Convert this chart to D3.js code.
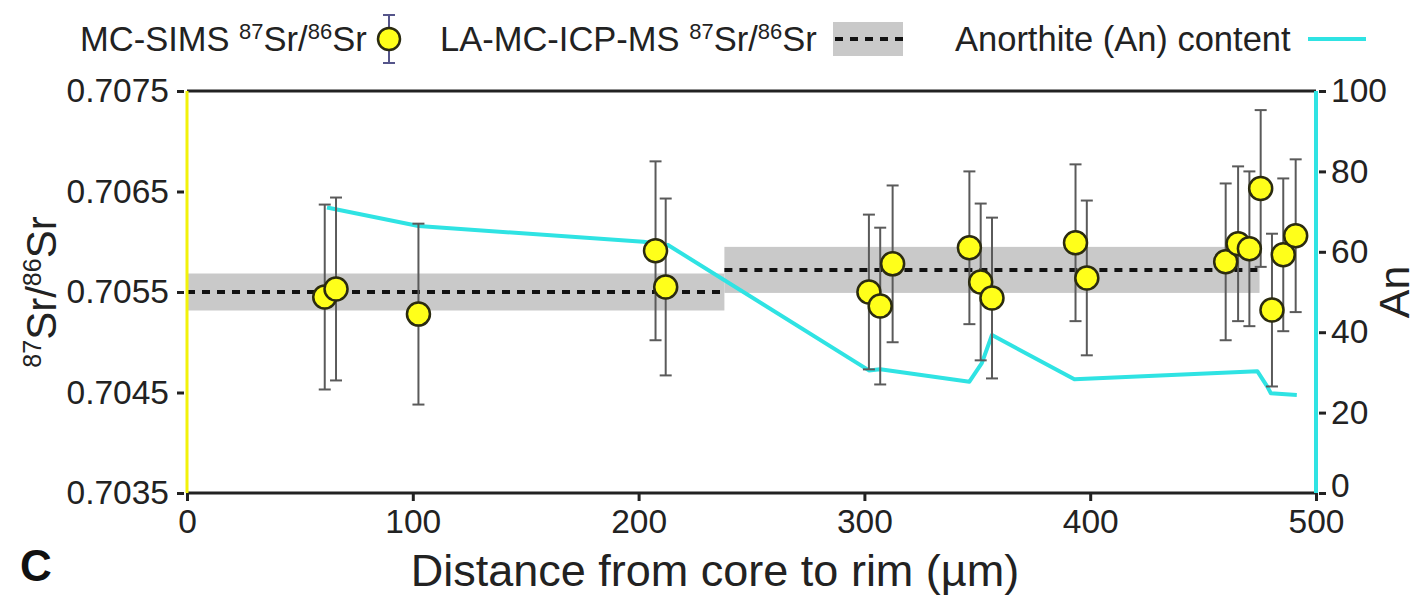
<!DOCTYPE html>
<html>
<head>
<meta charset="utf-8">
<script src="https://cdn.jsdelivr.net/npm/d3@7"></script>
<style>
    body { margin: 0; background: #fff; }
    svg { font-family: 'Liberation Sans', Arial, sans-serif; }
</style>
</head>
<body>
<div id="chart"></div>
<script>
// MC-SIMS spot analyses (distance in µm, 87Sr/86Sr, 2 s.e.)
const distance = [61, 66, 102.5, 207.5, 212, 302, 307, 312.5, 346.5, 351.5, 356.5, 393.5, 398.5, 460, 465.5, 470.5, 475.5, 480.5, 485.5, 491];
const srRatio = [0.70545, 0.70553, 0.70528, 0.70591, 0.70555, 0.70550, 0.70536, 0.70578, 0.70594, 0.70560, 0.70544, 0.70599, 0.70564, 0.70580, 0.70598, 0.70593, 0.70653, 0.70532, 0.70587, 0.70606];
const srErr = [0.00092, 0.00091, 0.00090, 0.00089, 0.00088, 0.00077, 0.00078, 0.00078, 0.00076, 0.00078, 0.00080, 0.00078, 0.00077, 0.00078, 0.00077, 0.00077, 0.00078, 0.00076, 0.00076, 0.00076];

// LA-MC-ICP-MS averages for two zones
const laStart = [0, 238];
const laEnd = [238, 475];
const laMean = [0.70550, 0.70572];
const laErr = [0.000184, 0.000229];

// anorthite profile
const anDist = [62, 102.5, 202, 213, 302, 307, 346.5, 352, 356.5, 393, 474, 478.5, 480, 491.5];
const anValue = [71.0, 66.4, 62.5, 61.7, 30.5, 30.8, 27.7, 32.3, 39.3, 28.3, 30.3, 26.4, 24.8, 24.4];

const xTicks = [0, 100, 200, 300, 400, 500];
const srTicks = [0.7035, 0.7045, 0.7055, 0.7065, 0.7075];
const anTicks = [0, 20, 40, 60, 80, 100];

const width = 1425, height = 602;
const margin = { left: 187, right: 109, top: 91, bottom: 109 };
const cyan = '#2fe3e3';

const svg = d3.select('#chart').append('svg')
    .attr('width', width)
    .attr('height', height);

const x = d3.scaleLinear().domain([0, 500]).range([margin.left, width - margin.right]);
const y = d3.scaleLinear().domain([0.7035, 0.7075]).range([height - margin.bottom, margin.top]);
const yAn = d3.scaleLinear().domain([0, 100]).range([height - margin.bottom, margin.top]);

const tickFont = '33.5px';

// LA-MC-ICP-MS bands
laMean.forEach((m, i) => {
    svg.append('rect')
        .attr('x', x(laStart[i]))
        .attr('y', y(m + laErr[i]))
        .attr('width', x(laEnd[i]) - x(laStart[i]))
        .attr('height', y(m - laErr[i]) - y(m + laErr[i]))
        .attr('fill', '#c9c9c9');
    svg.append('line')
        .attr('x1', x(laStart[i]))
        .attr('x2', x(laEnd[i]))
        .attr('y1', y(m))
        .attr('y2', y(m))
        .attr('stroke', '#111')
        .attr('stroke-width', 4)
        .attr('stroke-dasharray', '8,7');
});

// An content line
const anLine = d3.line()
    .x((d, i) => x(anDist[i]))
    .y(d => yAn(d));

svg.append('path')
    .datum(anValue)
    .attr('d', anLine)
    .attr('fill', 'none')
    .attr('stroke', cyan)
    .attr('stroke-width', 4)
    .attr('stroke-linejoin', 'round');

// error bars
const pts = distance.map((d, i) => ({ d, v: srRatio[i], e: srErr[i] }));

const bars = svg.append('g').attr('stroke', '#5a5a5a').attr('stroke-width', 2);
pts.forEach(p => {
    const cx = x(p.d);
    bars.append('line').attr('x1', cx).attr('x2', cx).attr('y1', y(p.v + p.e)).attr('y2', y(p.v - p.e));
    bars.append('line').attr('x1', cx - 6).attr('x2', cx + 6).attr('y1', y(p.v + p.e)).attr('y2', y(p.v + p.e));
    bars.append('line').attr('x1', cx - 6).attr('x2', cx + 6).attr('y1', y(p.v - p.e)).attr('y2', y(p.v - p.e));
});

svg.append('g').selectAll('circle')
    .data(pts)
    .enter().append('circle')
    .attr('cx', p => x(p.d))
    .attr('cy', p => y(p.v))
    .attr('r', 11.5)
    .attr('fill', '#ffff1a')
    .attr('stroke', '#2b2b10')
    .attr('stroke-width', 2.5);

// axes
const xAxis = svg.append('g')
    .attr('transform', `translate(0,${height - margin.bottom})`)
    .call(d3.axisBottom(x).tickValues(xTicks).tickSize(8).tickPadding(8));

const yAxis = svg.append('g')
    .attr('transform', `translate(${margin.left - 3},0)`)
    .call(d3.axisLeft(y).tickValues(srTicks).tickFormat(d3.format('.4f')).tickSize(7).tickPadding(8));

const anAxis = svg.append('g')
    .attr('transform', `translate(${width - margin.right + 3},0)`)
    .call(d3.axisRight(yAn).tickValues(anTicks).tickSize(7).tickPadding(5));

[xAxis, yAxis, anAxis].forEach(a => {
    a.select('.domain').remove();
    a.selectAll('line').attr('stroke', '#222').attr('stroke-width', 3);
    a.selectAll('text').style('font-size', tickFont).attr('fill', '#222');
});

// the "0" on the An axis sits just above the "500" label
anAxis.selectAll('.tick text').filter(d => d === 0).attr('dy', '0.1em');

// frame lines
svg.append('line')
    .attr('x1', x(0)).attr('x2', x(500))
    .attr('y1', y(0.7075)).attr('y2', y(0.7075))
    .attr('stroke', '#222').attr('stroke-width', 3);
svg.append('line')
    .attr('x1', x(0)).attr('x2', x(500))
    .attr('y1', y(0.7035)).attr('y2', y(0.7035))
    .attr('stroke', '#222').attr('stroke-width', 3);
svg.append('line')
    .attr('x1', x(0)).attr('x2', x(0))
    .attr('y1', y(0.7075)).attr('y2', y(0.7035))
    .attr('stroke', '#f2f20a').attr('stroke-width', 3);
svg.append('line')
    .attr('x1', x(500)).attr('x2', x(500))
    .attr('y1', y(0.7075)).attr('y2', y(0.7035))
    .attr('stroke', cyan).attr('stroke-width', 4);

// axis titles
const yTitle = svg.append('text')
    .attr('transform', `translate(56,${(margin.top + height - margin.bottom) / 2}) rotate(-90)`)
    .attr('text-anchor', 'middle')
    .style('font-size', '42px')
    .attr('fill', '#222');
yTitle.append('tspan').text('87').style('font-size', '25px').attr('dy', '-15');
yTitle.append('tspan').text('Sr/').attr('dy', '15');
yTitle.append('tspan').text('86').style('font-size', '25px').attr('dy', '-15');
yTitle.append('tspan').text('Sr').attr('dy', '15');

svg.append('text')
    .attr('transform', `translate(1409,${(margin.top + height - margin.bottom) / 2}) rotate(-90)`)
    .attr('text-anchor', 'middle')
    .style('font-size', '43px')
    .attr('fill', '#222')
    .text('An');

svg.append('text')
    .attr('x', 715)
    .attr('y', 586)
    .attr('text-anchor', 'middle')
    .style('font-size', '45px')
    .attr('fill', '#222')
    .text('Distance from core to rim (µm)');

svg.append('text')
    .attr('x', 20)
    .attr('y', 581)
    .style('font-size', '44px')
    .style('font-weight', 'bold')
    .attr('fill', '#111')
    .text('C');

// legend
const legY = 39;
function isoText(xPos, prefix) {
    const t = svg.append('text')
        .attr('x', xPos)
        .attr('y', legY + 12)
        .style('font-size', '34.5px')
        .attr('fill', '#222');
    t.append('tspan').text(prefix);
    t.append('tspan').text('87').style('font-size', '22px').attr('dy', '-12');
    t.append('tspan').text('Sr/').attr('dy', '12');
    t.append('tspan').text('86').style('font-size', '22px').attr('dy', '-12');
    t.append('tspan').text('Sr').attr('dy', '12');
    return t;
}

isoText(80, 'MC-SIMS ');
const lg = svg.append('g').attr('stroke', '#55558a').attr('stroke-width', 2);
lg.append('line').attr('x1', 389).attr('x2', 389).attr('y1', 15).attr('y2', 63);
lg.append('line').attr('x1', 383).attr('x2', 395).attr('y1', 15).attr('y2', 15);
lg.append('line').attr('x1', 383).attr('x2', 395).attr('y1', 63).attr('y2', 63);
svg.append('circle')
    .attr('cx', 389).attr('cy', legY).attr('r', 11)
    .attr('fill', '#ffff1a').attr('stroke', '#2b2b10').attr('stroke-width', 2.5);

isoText(440, 'LA-MC-ICP-MS ');
svg.append('rect')
    .attr('x', 833).attr('y', 22).attr('width', 70).attr('height', 34)
    .attr('fill', '#c9c9c9');
svg.append('line')
    .attr('x1', 835).attr('x2', 903).attr('y1', legY).attr('y2', legY)
    .attr('stroke', '#111').attr('stroke-width', 4).attr('stroke-dasharray', '8,7');

svg.append('text')
    .attr('x', 955)
    .attr('y', legY + 12)
    .style('font-size', '34.5px')
    .attr('fill', '#222')
    .text('Anorthite (An) content');
svg.append('line')
    .attr('x1', 1308).attr('x2', 1366).attr('y1', legY).attr('y2', legY)
    .attr('stroke', cyan).attr('stroke-width', 4);
</script>
</body>
</html>
